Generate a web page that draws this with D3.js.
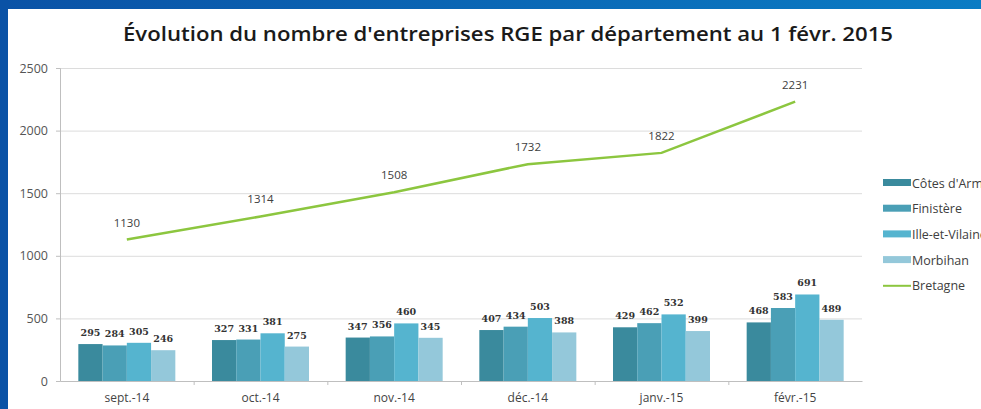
<!DOCTYPE html>
<html><head><meta charset="utf-8">
<script src="https://cdn.jsdelivr.net/npm/d3@7"></script>
<style>body{margin:0;background:#fff;overflow:hidden}svg{display:block}</style>
</head><body>
<svg id="c" width="981" height="409"></svg>
<script>
const categories = ["sept.-14","oct.-14","nov.-14","déc.-14","janv.-15","févr.-15"];
const seriesNames = ["Côtes d'Armor","Finistère","Ille-et-Vilaine","Morbihan"];
const cotesArmor = [295,327,347,407,429,468];
const finistere = [284,331,356,434,462,583];
const illeEtVilaine = [305,381,460,503,532,691];
const morbihan = [246,275,345,388,399,489];
const bretagne = [1130,1314,1508,1732,1822,2231];
const yTicks = [0,500,1000,1500,2000,2500];
const barColors = ["#3a8a9d","#4a9fb6","#55b4cf","#94c8da"];
const lineColor = "#8cc63f";

const svg = d3.select("#c");
const defs = svg.append("defs");
const g1 = defs.append("linearGradient").attr("id","topgrad").attr("x1","0").attr("x2","1");
g1.append("stop").attr("offset","0").attr("stop-color","#0a52a6");
g1.append("stop").attr("offset","1").attr("stop-color","#0a7cc4");
svg.append("rect").attr("x",0).attr("y",0).attr("width",981).attr("height",9).attr("fill","url(#topgrad)");
svg.append("rect").attr("x",0).attr("y",0).attr("width",8).attr("height",409).attr("fill","#0a52a6");

const mLeft = 60, mRight = 862, mTop = 68, mBottom = 381;
const x = d3.scaleBand().domain(categories).range([mLeft,mRight]).paddingInner(0).paddingOuter(0);
const y = d3.scaleLinear().domain([0,2500]).range([mBottom,mTop]);
const groupW = 97;
const xs = d3.scaleBand().domain(seriesNames).range([0,groupW]).padding(0);

svg.append("text").attr("x",508).attr("y",41).attr("text-anchor","middle")
  .attr("font-family","Open Sans, sans-serif").attr("font-weight",600).attr("font-size",20)
  .attr("textLength",770).attr("lengthAdjust","spacingAndGlyphs").attr("fill","#1a1a1a")
  .text("Évolution du nombre d'entreprises RGE par département au 1 févr. 2015");

// grid
svg.append("g").selectAll("line").data(yTicks.filter(d=>d>0)).join("line")
  .attr("x1",mLeft).attr("x2",mRight).attr("y1",d=>y(d)+0.5).attr("y2",d=>y(d)+0.5)
  .attr("stroke","#dcdcdc").attr("stroke-width",1);

// y axis
const yAxis = svg.append("g").attr("transform",`translate(${mLeft},0)`)
  .call(d3.axisLeft(y).tickValues(yTicks).tickSize(4).tickPadding(8).tickFormat(d3.format("d")));
yAxis.select(".domain").attr("stroke","#bfbfbf");
yAxis.selectAll(".tick line").attr("stroke","#bfbfbf");
yAxis.selectAll("text").attr("font-family","Open Sans, sans-serif").attr("font-size",12.5).attr("fill","#555");

// x axis
const xAxis = svg.append("g").attr("transform",`translate(0,${mBottom})`)
  .call(d3.axisBottom(x).tickSize(0).tickPadding(12));
xAxis.select(".domain").attr("stroke","#bfbfbf");
xAxis.selectAll("text").attr("font-family","Open Sans, sans-serif").attr("font-size",12).attr("fill","#444");
svg.append("g").selectAll("line").data(categories.slice(1)).join("line")
  .attr("x1",d=>x(d)+0.5).attr("x2",d=>x(d)+0.5).attr("y1",mBottom).attr("y2",mBottom+4)
  .attr("stroke","#bfbfbf");

// bars
const series = [cotesArmor, finistere, illeEtVilaine, morbihan];
series.forEach((vals,si)=>{
  const gs = svg.append("g");
  gs.selectAll("rect").data(vals).join("rect")
    .attr("x",(d,i)=>x(categories[i])+(x.bandwidth()-groupW)/2+xs(seriesNames[si]))
    .attr("width",xs.bandwidth())
    .attr("y",d=>y(d)).attr("height",d=>mBottom-y(d))
    .attr("fill",barColors[si]);
  gs.selectAll("text").data(vals).join("text")
    .attr("x",(d,i)=>x(categories[i])+(x.bandwidth()-groupW)/2+xs(seriesNames[si])+xs.bandwidth()/2)
    .attr("y",d=>y(d)-8)
    .attr("text-anchor","middle").attr("font-family","DejaVu Serif, serif").attr("font-weight","bold")
    .attr("font-size",9.5).attr("fill","#333").text(d=>d);
});

// line
const line = d3.line().x((d,i)=>x(categories[i])+x.bandwidth()/2).y(d=>y(d));
svg.append("path").datum(bretagne).attr("d",line).attr("fill","none")
  .attr("stroke",lineColor).attr("stroke-width",2.5);
svg.append("g").selectAll("text").data(bretagne).join("text")
  .attr("x",(d,i)=>x(categories[i])+x.bandwidth()/2).attr("y",d=>y(d)-13)
  .attr("text-anchor","middle").attr("font-family","Open Sans, sans-serif")
  .attr("font-size",11.5).attr("fill","#404040").text(d=>d);

// legend
const legendItems = seriesNames.concat(["Bretagne"]);
const lg = svg.append("g").attr("transform","translate(883,183)");
legendItems.forEach((name,i)=>{
  const row = lg.append("g").attr("transform",`translate(0,${i*25.7})`);
  if(i<4){
    row.append("rect").attr("x",0).attr("y",-4).attr("width",28).attr("height",7).attr("fill",barColors[i]);
  } else {
    row.append("line").attr("x1",0).attr("x2",28).attr("y1",0).attr("y2",0).attr("stroke",lineColor).attr("stroke-width",2);
  }
  row.append("text").attr("x",29).attr("y",4.5).attr("font-family","Open Sans, sans-serif")
    .attr("font-size",12.5).attr("fill","#404040").text(name);
});
</script>
</body></html>
